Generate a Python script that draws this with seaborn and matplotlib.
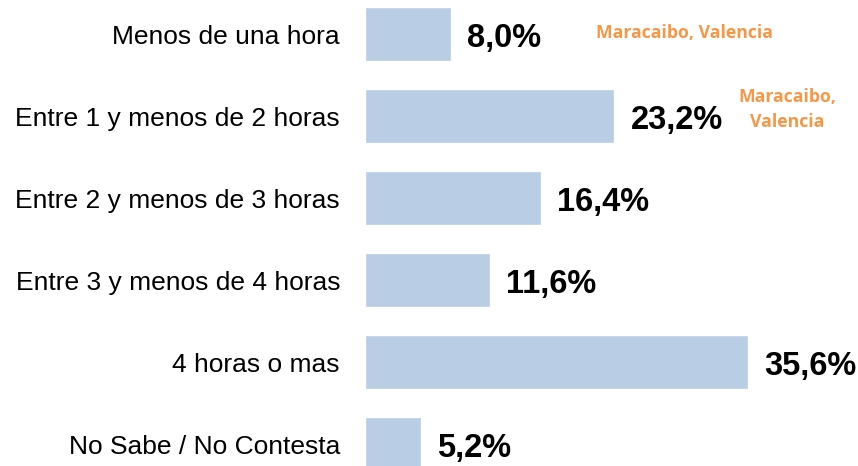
import matplotlib
matplotlib.use("Agg")
import matplotlib.pyplot as plt
import seaborn as sns
import pandas as pd

# data
categories = [
    "Menos de una hora",
    "Entre 1 y menos de 2 horas",
    "Entre 2 y menos de 3 horas",
    "Entre 3 y menos de 4 horas",
    "4 horas o mas",
    "No Sabe / No Contesta",
]
values = [8.0, 23.2, 16.4, 11.6, 35.6, 5.2]
notes = ["Maracaibo, Valencia", "Maracaibo,\nValencia", "", "", "", ""]
note_x = [29.7, 39.3, 0, 0, 0, 0]
note_dy = [-0.015, -0.08, 0, 0, 0, 0]

df = pd.DataFrame({"cat": categories, "val": values})

sns.set_style("white")
plt.rcParams["font.family"] = ["Liberation Sans", "DejaVu Sans"]

fig = plt.figure(figsize=(8.58, 4.66), dpi=100)
ax = fig.add_axes([365 / 858, 0, 1 - 365 / 858, 1])

sns.barplot(data=df, x="val", y="cat", orient="h", color="#B9CDE5",
            saturation=1, width=0.66, ax=ax)

for i, v in enumerate(values):
    ax.text(v + 1.5, i + 0.05, f"{v:.1f}%".replace(".", ","), ha="left",
            va="center", fontsize=23.5, fontweight="bold", color="black")
    if notes[i]:
        ax.text(note_x[i], i + note_dy[i], notes[i],
                ha="center", va="center", fontsize=12.7, fontweight="bold",
                color="#F79646", family=["Open Sans", "DejaVu Sans"],
                linespacing=1.5)

ax.set_xlim(0, 45.86)
ax.set_ylim(5.268, -0.415)
ax.set_xlabel("")
ax.set_ylabel("")
ax.set_xticks([])
ax.tick_params(axis="y", length=0, pad=18, labelsize=19, labelcolor="black")
sns.despine(ax=ax, left=True, bottom=True)

fig.savefig("out.png", dpi=100)
